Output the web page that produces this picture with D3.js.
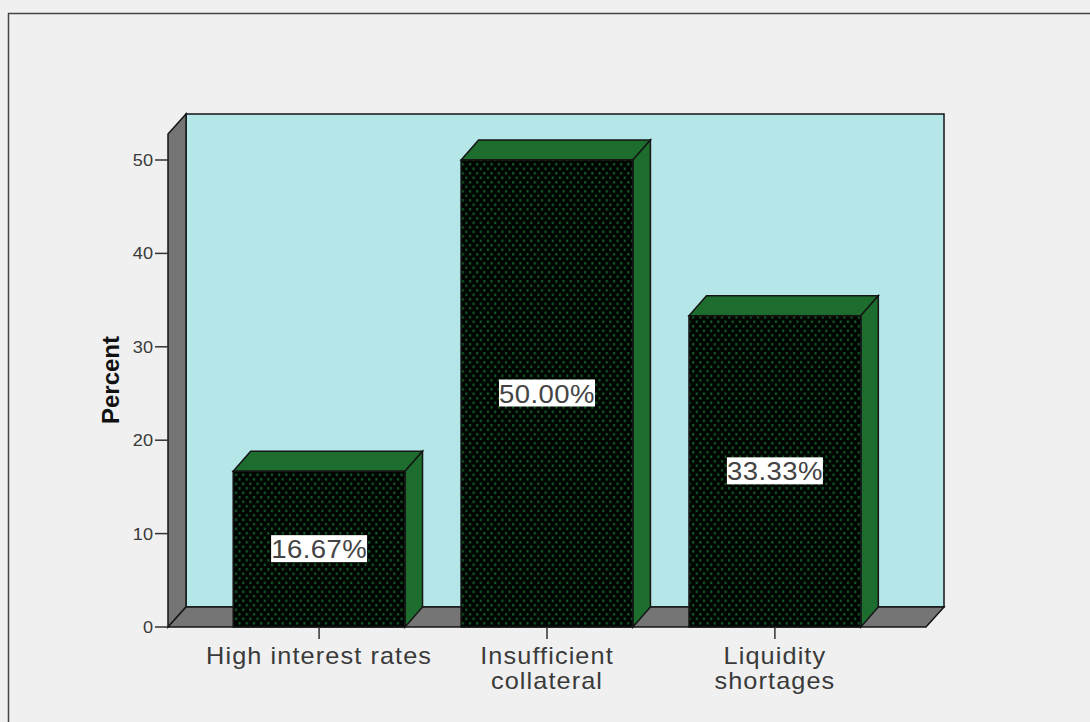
<!DOCTYPE html>
<html>
<head>
<meta charset="utf-8">
<script src="https://cdn.jsdelivr.net/npm/d3@7/dist/d3.min.js"></script>
<style>
  html, body { margin: 0; padding: 0; background: #f0f0f0; }
  svg { display: block; }
  text { font-family: "Liberation Sans", Arial, sans-serif; fill: #3a3a3a; }
</style>
</head>
<body>
<svg id="chart" width="1090" height="722"></svg>
<script>
const categories = [["High interest rates"], ["Insufficient", "collateral"], ["Liquidity", "shortages"]];
const percents = [16.67, 50.00, 33.33];
const valueLabels = ["16.67%", "50.00%", "33.33%"];
const yTicks = [0, 10, 20, 30, 40, 50];

const svg = d3.select("#chart");
const wallGrey = "#757575", plotFill = "#b5e6e8", sideGreen = "#1d6e2e", ink = "#151515";

// Front plane of the 3D plot box and its extrusion offset
const left = 168, right = 926, base = 627, topEdge = 134;
const depthX = 18, depthY = -20, barDepthX = 17.5;
const widen = 1.1; // horizontal stretch of the wide-set label type

const y = d3.scaleLinear().domain([0, 50]).range([base, 160]);
const x = d3.scaleBand()
  .domain(d3.range(categories.length))
  .range([left, right])
  .paddingInner(0.246)
  .paddingOuter(0.286);

const line = d3.line();
const poly = pts => line(pts) + "Z";

// Dotted fill for the bar fronts
const pattern = svg.append("defs").append("pattern")
  .attr("id", "dots").attr("patternUnits", "userSpaceOnUse")
  .attr("width", 7.2).attr("height", 9);
pattern.append("rect").attr("width", 7.2).attr("height", 9).attr("fill", "#010502");
pattern.append("rect").attr("x", 1).attr("y", 1).attr("width", 2).attr("height", 2.6).attr("fill", "#125a26");
pattern.append("rect").attr("x", 4.6).attr("y", 5.5).attr("width", 2).attr("height", 2.6).attr("fill", "#125a26");

// Outer frame
svg.append("path")
  .attr("d", "M8.5,722V13.5H1090")
  .attr("fill", "none").attr("stroke", "#444").attr("stroke-width", 1.5);

// Back wall, side wall and floor
svg.append("path")
  .attr("d", poly([[left + depthX, topEdge + depthY], [right + depthX, topEdge + depthY], [right + depthX, base + depthY], [left + depthX, base + depthY]]))
  .attr("fill", plotFill).attr("stroke", ink).attr("stroke-width", 1.5);
svg.append("path")
  .attr("d", poly([[left, topEdge], [left + depthX, topEdge + depthY], [left + depthX, base + depthY], [left, base]]))
  .attr("fill", wallGrey).attr("stroke", ink).attr("stroke-width", 1.5);
svg.append("path")
  .attr("d", poly([[left, base], [left + depthX, base + depthY], [right + depthX, base + depthY], [right, base]]))
  .attr("fill", wallGrey).attr("stroke", ink).attr("stroke-width", 1.5);

// Value axis ticks and labels
const yAxis = svg.append("g");
yAxis.selectAll("line").data(yTicks).join("line")
  .attr("x1", left - 13).attr("x2", left)
  .attr("y1", d => y(d)).attr("y2", d => y(d))
  .attr("stroke", "#333").attr("stroke-width", 1.5);
yAxis.selectAll("text").data(yTicks).join("text")
  .attr("transform", d => `translate(${left - 15},${y(d) + 6}) scale(${widen},1)`)
  .attr("text-anchor", "end").attr("font-size", 16.5)
  .text(d => d);

svg.append("text")
  .attr("transform", "translate(119,380) rotate(-90)")
  .attr("text-anchor", "middle").attr("font-size", 24).attr("font-weight", "bold")
  .attr("style", "fill:#111")
  .text("Percent");

// Extruded bars
const bars = svg.selectAll("g.bar").data(percents).join("g").attr("class", "bar");
bars.each(function (v, i) {
  const g = d3.select(this), x0 = x(i), x1 = x0 + x.bandwidth(), yv = y(v);
  g.append("path")
    .attr("d", poly([[x0, yv], [x0 + barDepthX, yv + depthY], [x1 + barDepthX, yv + depthY], [x1, yv]]))
    .attr("fill", sideGreen).attr("stroke", ink).attr("stroke-width", 1.5);
  g.append("path")
    .attr("d", poly([[x1, yv], [x1 + barDepthX, yv + depthY], [x1 + barDepthX, base + depthY], [x1, base]]))
    .attr("fill", sideGreen).attr("stroke", ink).attr("stroke-width", 1.5);
  g.append("rect")
    .attr("x", x0).attr("y", yv).attr("width", x.bandwidth()).attr("height", base - yv)
    .attr("fill", "url(#dots)").attr("stroke", ink).attr("stroke-width", 1.5);
});

// Category ticks and labels
svg.selectAll("line.cat").data(categories).join("line").attr("class", "cat")
  .attr("x1", (d, i) => x(i) + x.bandwidth() / 2).attr("x2", (d, i) => x(i) + x.bandwidth() / 2)
  .attr("y1", base).attr("y2", base + 12)
  .attr("stroke", "#333").attr("stroke-width", 1.5);
svg.selectAll("g.cat").data(categories).join("g").attr("class", "cat")
  .attr("transform", (d, i) => `translate(${x(i) + x.bandwidth() / 2},0) scale(${widen},1)`)
  .each(function (lines) {
    d3.select(this).selectAll("text").data(lines).join("text")
      .attr("x", 0)
      .attr("y", (d, k) => 664 + k * 25)
      .attr("text-anchor", "middle").attr("font-size", 23).attr("letter-spacing", 1)
      .text(d => d);
  });

// Value labels centred on each bar's height
const labels = svg.selectAll("g.val").data(percents).join("g").attr("class", "val");
labels.append("rect")
  .attr("x", (d, i) => x(i) + x.bandwidth() / 2 - 48).attr("width", 96)
  .attr("y", d => y(d / 2) - 14).attr("height", 27)
  .attr("fill", "#fff");
labels.append("text")
  .attr("transform", (d, i) => `translate(${x(i) + x.bandwidth() / 2},${y(d / 2) + 9}) scale(${widen},1)`)
  .attr("text-anchor", "middle").attr("font-size", 25).attr("letter-spacing", 0.4)
  .attr("style", "fill:#444")
  .text((d, i) => valueLabels[i]);
</script>
</body>
</html>
